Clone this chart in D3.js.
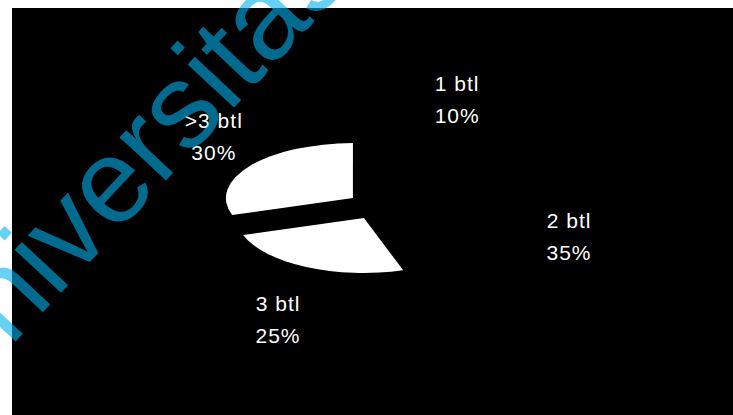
<!DOCTYPE html>
<html>
<head>
<meta charset="utf-8">
<script src="https://cdn.jsdelivr.net/npm/d3@7"></script>
<style>
  html, body { margin: 0; padding: 0; background: #fff; }
  svg { display: block; }
</style>
</head>
<body>
<script>
// ---- data ----
const categories = ["1 btl", "2 btl", "3 btl", ">3 btl"];
const values = [10, 35, 25, 30];

// ---- layout / style ----
const W = 733, H = 415;
const cx = 378, cy = 206;      // pie centre
const rx = 127;                // horizontal radius
const tilt = 0.433;            // vertical squash of the tilted pie
const explode = 31;            // slice offset (circle units)
const labelR = 240;
const sliceFill = ["#000", "#000", "#fff", "#fff"];
const labelNudge = [[5, 0], [-46, 22], [9, 28], [30, -1]];

const svg = d3.select("body").append("svg")
  .attr("width", W).attr("height", H);

svg.append("rect").attr("width", W).attr("height", H).attr("fill", "#fff");
svg.append("rect").attr("x", 12).attr("y", 8)
  .attr("width", W - 12).attr("height", H - 8).attr("fill", "#000");

const pie = d3.pie().sort(null).value(d => d)(values);
const arc = d3.arc().innerRadius(0).outerRadius(rx);

const g = svg.append("g")
  .attr("transform", `translate(${cx},${cy}) scale(1,${tilt})`);

g.selectAll("path.slice").data(pie).join("path")
  .attr("class", "slice")
  .attr("d", arc)
  .attr("fill", (d, i) => sliceFill[i])
  .attr("transform", d => {
    const m = (d.startAngle + d.endAngle) / 2;
    return `translate(${explode * Math.sin(m)},${-explode * Math.cos(m)})`;
  });

// labels
const lab = svg.append("g")
  .attr("font-family", "'Liberation Sans', Arial, sans-serif")
  .attr("font-size", 21)
  .attr("letter-spacing", 1)
  .attr("fill", "#fff")
  .attr("text-anchor", "middle");

pie.forEach((d, i) => {
  const m = (d.startAngle + d.endAngle) / 2;
  const x = cx + labelR * Math.sin(m) + labelNudge[i][0];
  const y = cy - labelR * Math.cos(m) * tilt + labelNudge[i][1];
  lab.append("text").attr("x", x).attr("y", y - 16).text(categories[i]);
  lab.append("text").attr("x", x).attr("y", y + 16).text(values[i] + "%");
});

// watermark
svg.append("text")
  .attr("transform", "translate(-49,411) rotate(-47)")
  .attr("font-family", "'Liberation Sans', Arial, sans-serif")
  .attr("font-size", 120)
  .attr("fill", "rgba(0,178,236,0.6)")
  .text("Universitas");
</script>
</body>
</html>
